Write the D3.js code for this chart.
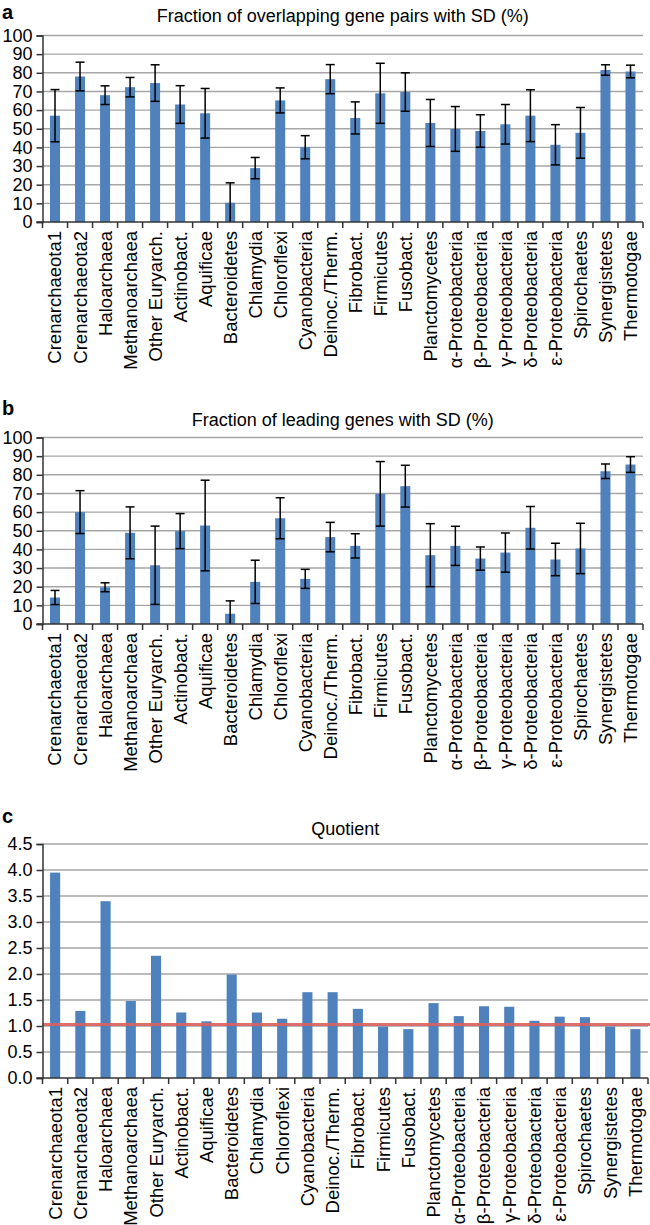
<!DOCTYPE html>
<html><head><meta charset="utf-8">
<script src="https://cdn.jsdelivr.net/npm/d3@7"></script>
<style>
body{margin:0;background:#fff}
svg text{font-family:"Liberation Sans",Arial,Helvetica,sans-serif;fill:#000}
</style>
</head><body>
<svg id="chart" width="650" height="1225"></svg>
<script>
const categories = ["Crenarchaeota1","Crenarchaeota2","Haloarchaea","Methanoarchaea","Other Euryarch.","Actinobact.","Aquificae","Bacteroidetes","Chlamydia","Chloroflexi","Cyanobacteria","Deinoc./Therm.","Fibrobact.","Firmicutes","Fusobact.","Planctomycetes","\u03b1-Proteobacteria","\u03b2-Proteobacteria","\u03b3-Proteobacteria","\u03b4-Proteobacteria","\u03b5-Proteobacteria","Spirochaetes","Synergistetes","Thermotogae"];

const overlapValues = [57, 78, 68, 72.3, 74.5, 63, 58.3, 10.3, 28.9, 65.2, 40.1, 76.6, 55.8, 69, 69.7, 53.1, 49.9, 48.8, 52.4, 57, 41.4, 47.8, 81.5, 80.7];
const overlapSD     = [14, 7.7, 5, 5.2, 9.8, 10.1, 13.3, 10.7, 5.7, 6.7, 6.2, 7.8, 8.6, 16.1, 10.3, 12.6, 12, 8.7, 10.6, 13.9, 10.8, 13.6, 2.8, 3.4];

const leadingValues = [14.2, 60, 19.7, 48.9, 31.5, 49.8, 52.8, 5.5, 22.6, 56.7, 24.2, 46.6, 41.9, 69.8, 73.9, 36.9, 41.9, 35.1, 38.3, 51.6, 34.6, 40.5, 81.9, 85.5];
const leadingSD     = [3.8, 11.5, 2.4, 13.9, 21, 9.4, 24.3, 6.9, 11.6, 11, 5.1, 7.9, 6.5, 17.3, 11.2, 16.9, 10.5, 6.2, 10.5, 11.4, 8.7, 13.5, 3.9, 4.2];

const quotientValues = [3.95, 1.29, 3.40, 1.48, 2.35, 1.26, 1.09, 1.99, 1.26, 1.14, 1.65, 1.65, 1.33, 0.99, 0.94, 1.44, 1.19, 1.38, 1.37, 1.10, 1.18, 1.17, 0.99, 0.94];
const quotientRef = 1.03;

const pctTicks = [0,10,20,30,40,50,60,70,80,90,100];
const quotTicks = [0,0.5,1.0,1.5,2.0,2.5,3.0,3.5,4.0,4.5];

const titles = ["Fraction of overlapping gene pairs with SD (%)", "Fraction of leading genes with SD (%)", "Quotient"];
const letters = ["a","b","c"];

const BAR = "#4f81bd";
const FS = 18;
const LFS = 18.5;
const svg = d3.select("#chart");

function panel(o){
  const g = svg.append("g");
  const left = 42.5;
  const x = d3.scaleBand().domain(categories).range([left, o.right]).paddingInner(0.6).paddingOuter(0.3);
  const y = d3.scaleLinear().domain([0, o.max]).range([o.bottom, o.top]);

  g.append("text").attr("x", 2).attr("y", o.letterY).attr("font-weight","bold").attr("font-size", 20).text(o.letter);
  g.append("text").attr("x", (left + o.right)/2).attr("y", o.titleY).attr("text-anchor","middle").attr("font-size", FS).text(o.title);

  g.selectAll(".grid").data(o.ticks.filter(t => t > 0)).join("line")
    .attr("x1", left).attr("x2", o.right)
    .attr("y1", d => y(d)).attr("y2", d => y(d))
    .attr("stroke", "#a6a6a6").attr("stroke-width", 1.4);

  g.selectAll(".bar").data(o.values).join("rect")
    .attr("x", (d,i) => x(categories[i]))
    .attr("width", x.bandwidth())
    .attr("y", d => y(d))
    .attr("height", d => y(0) - y(d))
    .attr("fill", BAR);

  if (o.sd) {
    const eb = g.selectAll(".eb").data(o.values).join("g");
    eb.each(function(d,i){
      const cx = x(categories[i]) + x.bandwidth()/2;
      const hi = d + o.sd[i], lo = Math.max(0, d - o.sd[i]);
      const s = d3.select(this);
      s.append("line").attr("x1",cx).attr("x2",cx).attr("y1",y(hi)).attr("y2",y(lo)).attr("stroke","#000").attr("stroke-width",1.5);
      s.append("line").attr("x1",cx-4.5).attr("x2",cx+4.5).attr("y1",y(hi)).attr("y2",y(hi)).attr("stroke","#000").attr("stroke-width",1.5);
      if (d - o.sd[i] > 0)
        s.append("line").attr("x1",cx-4.5).attr("x2",cx+4.5).attr("y1",y(lo)).attr("y2",y(lo)).attr("stroke","#000").attr("stroke-width",1.5);
    });
  }

  if (o.ref !== undefined) {
    g.append("line").attr("x1", left).attr("x2", 650).attr("y1", y(o.ref)).attr("y2", y(o.ref))
      .attr("stroke", "#d9605f").attr("stroke-width", 3).attr("stroke-opacity", 0.9);
  }

  const ya = g.append("g").attr("transform", `translate(${left},0)`)
    .call(d3.axisLeft(y).tickValues(o.ticks).tickFormat(o.fmt).tickSize(6).tickPadding(4));
  ya.select(".domain").attr("stroke","#333").attr("stroke-width",1.5);
  ya.selectAll(".tick line").attr("stroke","#333").attr("stroke-width",1.5);
  ya.selectAll(".tick text").attr("font-size", FS).attr("font-family", '"Liberation Sans",Arial,sans-serif').attr("fill","#000");

  g.append("line").attr("x1", left - 6).attr("x2", o.right).attr("y1", y(0)).attr("y2", y(0)).attr("stroke","#333").attr("stroke-width",1.5);
  const bounds = categories.map(c => x(c) - x.step()*x.paddingOuter()).concat([o.right]);
  g.selectAll(".xt").data(bounds).join("line")
    .attr("x1", d => d).attr("x2", d => d).attr("y1", y(0)).attr("y2", y(0) + 6)
    .attr("stroke","#333").attr("stroke-width",1.5);

  g.selectAll(".xl").data(categories).join("text")
    .attr("transform", d => `translate(${x(d) + x.bandwidth()/2},${y(0) + 9}) rotate(-90)`)
    .attr("text-anchor","end").attr("dy","0.35em").attr("font-size", LFS)
    .text(d => d);
}

panel({letter:letters[0], letterY:19, title:titles[0], titleY:22, top:35.5, bottom:222, right:643, max:100, ticks:pctTicks, fmt:d3.format("d"), values:overlapValues, sd:overlapSD});
panel({letter:letters[1], letterY:415, title:titles[1], titleY:426, top:437.5, bottom:624, right:643, max:100, ticks:pctTicks, fmt:d3.format("d"), values:leadingValues, sd:leadingSD});
panel({letter:letters[2], letterY:823, title:titles[2], titleY:835, top:844, bottom:1078, right:648, max:4.5, ticks:quotTicks, fmt:d3.format(".1f"), values:quotientValues, ref:quotientRef});
</script>
</body></html>
